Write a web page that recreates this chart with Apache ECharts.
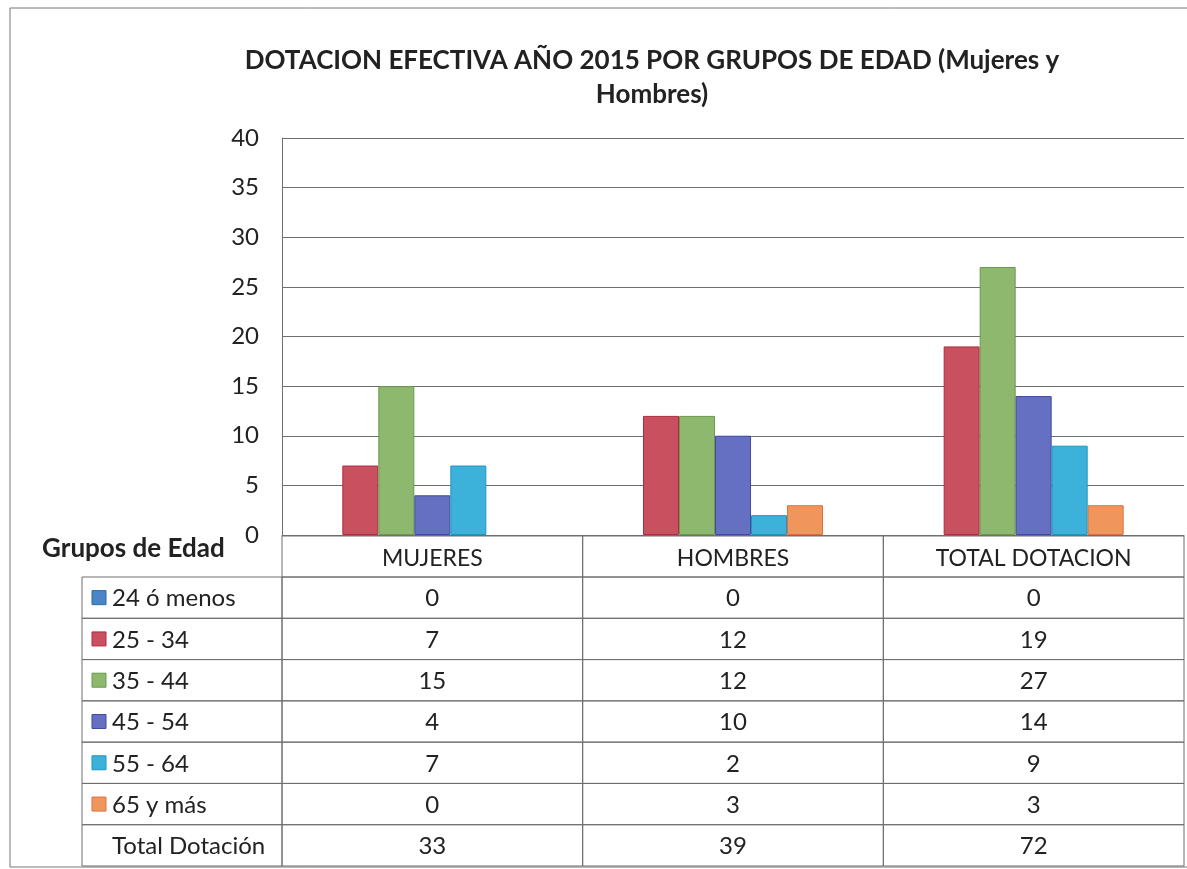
<!DOCTYPE html>
<html>
<head>
<meta charset="utf-8">
<script src="https://cdn.jsdelivr.net/npm/echarts@6/dist/echarts.min.js"></script>
<style>
  html, body { margin: 0; padding: 0; background: #fff; }
  #main { width: 1187px; height: 869px; }
</style>
</head>
<body>
<div id="main"></div>
<script>
// datos
var categories = ['MUJERES', 'HOMBRES', 'TOTAL DOTACION'];
var groups = ['24 ó menos', '25 - 34', '35 - 44', '45 - 54', '55 - 64', '65 y más'];
var g24 = [0, 0, 0];
var g25 = [7, 12, 19];
var g35 = [15, 12, 27];
var g45 = [4, 10, 14];
var g55 = [7, 2, 9];
var g65 = [0, 3, 3];
var totals = [33, 39, 72];
var totalLabel = 'Total Dotación';

var values = [g24, g25, g35, g45, g55, g65];
var colors = ['#4A86C5', '#C9505F', '#8DB86E', '#6670C2', '#3CB2DA', '#F0965C'];
var borders = ['#2C6BA8', '#B02A42', '#6A9A50', '#3F4BA0', '#1F96C0', '#E07040'];

var FONT = 'Lato';
var L = 282, R = 1184;
var cw = (R - L) / 3;
var headTop = 536, headBottom = 577, tableBottom = 866, labelLeft = 82;
var rowH = (tableBottom - headBottom) / 7;
var lineColor = '#6e6e6e';

var myChart = echarts.init(document.getElementById('main'));

var series = values.map(function (arr, i) {
  return {
    name: groups[i],
    type: 'bar',
    barWidth: 36,
    barGap: '0%',
    itemStyle: { color: colors[i], borderColor: borders[i], borderWidth: 1 },
    data: arr.map(function (v) {
      return { value: v, itemStyle: { borderWidth: v ? 1 : 0 } };
    })
  };
});
// hueco reservado para la fila de totales (no se dibuja)
series.push({ name: totalLabel, type: 'bar', barWidth: 36, barGap: '0%', data: [] });

// tabla de datos
var graphics = [];
graphics.push({
  type: 'rect', silent: true,
  shape: { x: 10, y: 8, width: 1190, height: 859 },
  style: { fill: 'none', stroke: '#777', lineWidth: 1 }
});
graphics.push({
  type: 'text', silent: true, x: 42, y: 549,
  style: { text: 'Grupos de Edad', font: 'bold 26px ' + FONT, fill: '#222', verticalAlign: 'middle' }
});
categories.forEach(function (c, i) {
  graphics.push({
    type: 'rect', silent: true,
    shape: { x: L + i * cw, y: headTop, width: cw, height: headBottom - headTop },
    style: { fill: 'none', stroke: lineColor, lineWidth: 1 }
  });
  graphics.push({
    type: 'text', silent: true,
    x: L + i * cw + cw / 2, y: (headTop + headBottom) / 2 + 2,
    style: { text: c, font: '23px ' + FONT, fill: '#222', align: 'center', verticalAlign: 'middle' }
  });
});
var rowLabels = groups.concat([totalLabel]);
var rowValues = values.concat([totals]);
rowLabels.forEach(function (lab, r) {
  var y0 = headBottom + r * rowH;
  graphics.push({
    type: 'rect', silent: true,
    shape: { x: labelLeft, y: y0, width: L - labelLeft, height: rowH },
    style: { fill: 'none', stroke: lineColor, lineWidth: 1 }
  });
  if (r < groups.length) {
    graphics.push({
      type: 'rect', silent: true,
      shape: { x: 92, y: y0 + rowH / 2 - 7, width: 14, height: 14 },
      style: { fill: colors[r], stroke: borders[r], lineWidth: 1 }
    });
  }
  graphics.push({
    type: 'text', silent: true,
    x: 112, y: y0 + rowH / 2 + 1,
    style: { text: lab, font: '24px ' + FONT, fill: '#222', align: 'left', verticalAlign: 'middle' }
  });
  categories.forEach(function (c, i) {
    graphics.push({
      type: 'rect', silent: true,
      shape: { x: L + i * cw, y: y0, width: cw, height: rowH },
      style: { fill: 'none', stroke: lineColor, lineWidth: 1 }
    });
    graphics.push({
      type: 'text', silent: true,
      x: L + i * cw + cw / 2, y: y0 + rowH / 2 + 1,
      style: { text: String(rowValues[r][i]), font: '24px ' + FONT, fill: '#222', align: 'center', verticalAlign: 'middle' }
    });
  });
});

var option = {
  animation: false,
  title: {
    text: 'DOTACION EFECTIVA AÑO 2015 POR GRUPOS DE EDAD (Mujeres y\nHombres)',
    left: 647,
    top: 39,
    textAlign: 'center',
    textStyle: { fontFamily: FONT, fontWeight: 'bold', fontSize: 26, lineHeight: 34, color: '#222' }
  },
  grid: { left: L, right: 1187 - R, top: 138, bottom: 869 - 535 },
  xAxis: {
    type: 'category',
    data: categories,
    axisLabel: { show: false },
    axisTick: { show: false },
    axisLine: { lineStyle: { color: lineColor } }
  },
  yAxis: {
    type: 'value',
    min: 0,
    max: 40,
    interval: 5,
    axisLine: { show: true, lineStyle: { color: lineColor } },
    axisTick: { show: false },
    axisLabel: { fontFamily: FONT, fontSize: 24, color: '#222', margin: 23 },
    splitLine: { lineStyle: { color: '#6e6e6e', width: 1 } }
  },
  series: series,
  graphic: graphics
};

myChart.setOption(option);
</script>
</body>
</html>
